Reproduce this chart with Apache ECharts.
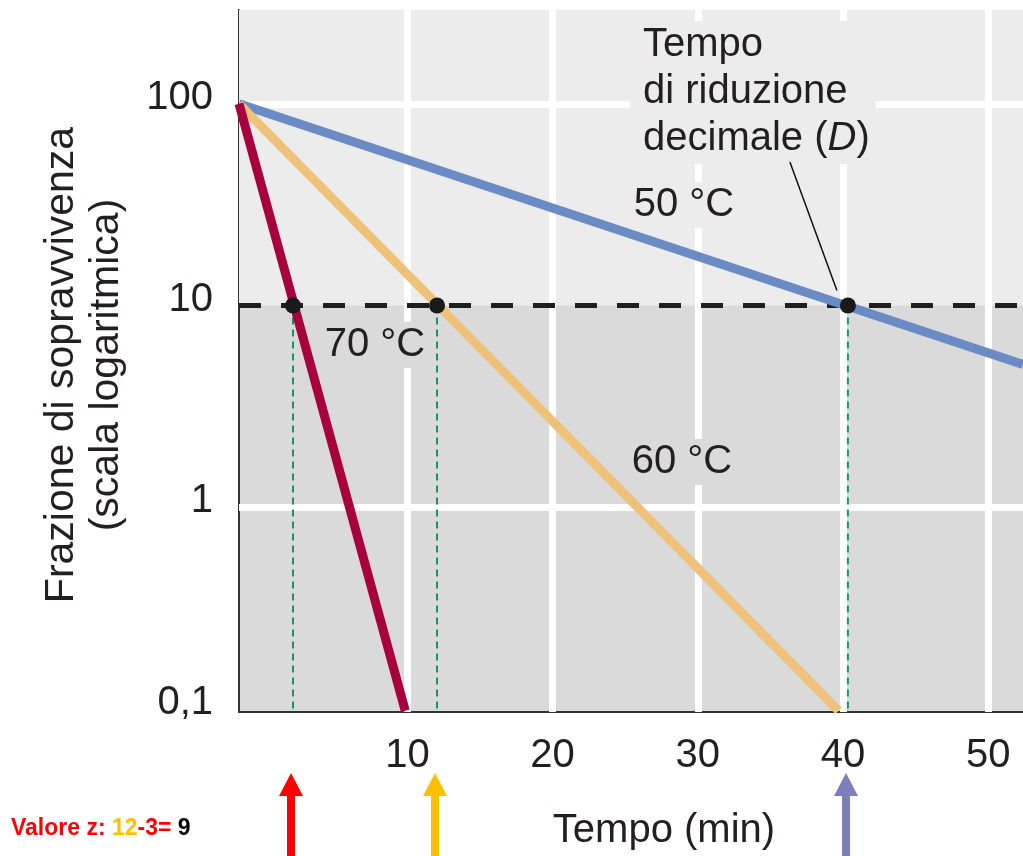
<!DOCTYPE html>
<html>
<head>
<meta charset="utf-8">
<script src="https://cdn.jsdelivr.net/npm/echarts@6/dist/echarts.min.js"></script>
<style>
html,body{margin:0;padding:0;background:#ffffff;}
#chart{width:1023px;height:856px;}
</style>
</head>
<body>
<div id="chart"></div>
<script>
// ---- data ----
const xTickValues = [10, 20, 30, 40, 50];
const yTickValues = [0.1, 1, 10, 100];
const xGridValues = [10, 20, 30, 40, 50];
const yGridValues = [1, 100];
const xRange = [-1.6, 52.4];
const yRange = [0.0966, 291.7];
const line50 = [[-1.6, 100], [52.4, 5.1]];
const line60 = [[-1.6, 100], [39.7, 0.098]];
const line70 = [[-1.6, 100], [9.85, 0.098]];
const dValues = [2.12, 12.04, 40.34];      // decimal reduction times (70, 60, 50 °C)
const reductionLevel = 10;
const floorLevel = 0.1;
const seriesNames = ['70 °C', '60 °C', '50 °C'];
const annotationText = 'Tempo\ndi riduzione\ndecimale ({i|D})';
const xTitle = 'Tempo (min)';
const yTitle = 'Frazione di sopravvivenza\n(scala logaritmica)';

const FONT = '"Liberation Sans", Arial, sans-serif';
const TXT = '#231f20';
const UPPER = '#ebeceb';
const LOWER = '#dadada';

const chart = echarts.init(document.getElementById('chart'), null, {renderer: 'canvas'});

const greenSeries = dValues.map(d => ({
  type: 'line', z: 4, silent: true, symbol: 'none', animation: false,
  data: [[d, reductionLevel], [d, floorLevel]],
  lineStyle: {color: '#129a63', width: 2, type: [7, 5]}
}));

chart.setOption({
  animation: false,
  grid: {left: 239, right: 0, top: 10, bottom: 144, show: true, backgroundColor: LOWER, borderWidth: 0},
  xAxis: {
    type: 'value', min: xRange[0], max: xRange[1],
    axisLine: {show: true, onZero: false, lineStyle: {color: '#333', width: 2}},
    axisTick: {show: false},
    splitLine: {show: false},
    axisLabel: {customValues: xTickValues, fontFamily: FONT, fontSize: 40, color: TXT, margin: 24}
  },
  yAxis: {
    type: 'log', logBase: 10, min: yRange[0], max: yRange[1],
    axisLine: {show: true, onZero: false, lineStyle: {color: '#333', width: 2}},
    axisTick: {show: false},
    splitLine: {show: false},
    axisLabel: {customValues: yTickValues, fontFamily: FONT, fontSize: 40, color: TXT, margin: 26,
      verticalAlign: 'bottom', lineHeight: 12,
      formatter: v => String(v).replace('.', ',')}
  },
  series: [
    {
      type: 'line', z: 4, silent: true, symbol: 'none',
      data: [[xRange[0], reductionLevel], [xRange[1], reductionLevel]],
      lineStyle: {color: '#1e1e1e', width: 5, type: [22, 20]},
      markArea: {
        z: 1, silent: true,
        itemStyle: {color: UPPER},
        data: [[{xAxis: xRange[0], yAxis: reductionLevel}, {xAxis: xRange[1], yAxis: yRange[1]}]]
      },
      markLine: {
        z: 2, silent: true, symbol: 'none', label: {show: false},
        lineStyle: {color: '#ffffff', width: 7, type: 'solid'},
        data: xGridValues.map(v => ({xAxis: v})).concat(yGridValues.map(v => ({yAxis: v})))
      }
    },
    ...greenSeries,
    {name: seriesNames[2], type: 'line', z: 5, symbol: 'none', data: line50,
     lineStyle: {color: '#6a8bc3', width: 9, cap: 'butt'}},
    {name: seriesNames[1], type: 'line', z: 5, symbol: 'none', data: line60,
     lineStyle: {color: '#efc27c', width: 9, cap: 'butt'}},
    {name: seriesNames[0], type: 'line', z: 5, symbol: 'none', data: line70,
     lineStyle: {color: '#a8003c', width: 9, cap: 'butt'}},
    {type: 'scatter', z: 6, symbolSize: 16, itemStyle: {color: '#1a1a1a', opacity: 1},
     data: dValues.map(d => [d, reductionLevel])}
  ]
});

// ---- annotations positioned through the chart's scales ----
const px = v => chart.convertToPixel({gridIndex: 0}, v);
const dotPx = dValues.map(d => px([d, reductionLevel]));
const arrowColors = ['#ff0000', '#ffc000', '#7b80ba'];
const arrows = dotPx.map((p, i) => {
  const x = Math.round(p[0]) - 2;
  return {
    type: 'polygon', z: 100, silent: true,
    shape: {points: [[x, 773], [x + 12, 796], [x + 4, 796], [x + 4, 856], [x - 4, 856], [x - 4, 796], [x - 12, 796]]},
    style: {fill: arrowColors[i]}
  };
});

function label(text, cx, cy, bg) {
  return {
    type: 'text', z: 100, silent: true, x: cx, y: cy,
    style: {text: text, font: '40px ' + FONT, fill: TXT, align: 'center', verticalAlign: 'middle',
      backgroundColor: bg, padding: [4, 6, 2, 6]}
  };
}

const blue = dotPx[2];
chart.setOption({
  graphic: [
    label(seriesNames[2], 684, 205, UPPER),
    label(seriesNames[1], 682, 462, LOWER),
    label(seriesNames[0], 375, 345, LOWER),
    {
      type: 'text', z: 100, silent: true, x: 630, y: 21,
      style: {
        text: annotationText, font: '40px ' + FONT, fill: TXT, align: 'left', verticalAlign: 'top',
        lineHeight: 47, backgroundColor: UPPER, padding: [0, 6, 2, 13],
        rich: {i: {fontStyle: 'italic', fontSize: 40, fontFamily: FONT, fill: TXT}}
      }
    },
    {
      type: 'line', z: 100, silent: true,
      shape: {x1: blue[0] - 11, y1: blue[1] - 15, x2: blue[0] - 58, y2: 162},
      style: {stroke: '#111', lineWidth: 1.5}
    },
    {
      type: 'text', z: 100, silent: true, x: 664, y: 831,
      style: {text: xTitle, font: '40px ' + FONT, fill: TXT, align: 'center', verticalAlign: 'middle'}
    },
    {
      type: 'text', z: 100, silent: true, x: 84, y: 365, rotation: Math.PI / 2,
      style: {text: yTitle, font: '41px ' + FONT, fill: TXT, align: 'center', verticalAlign: 'middle', lineHeight: 45}
    },
    {
      type: 'text', z: 100, silent: true, x: 11, y: 829,
      style: {
        text: '{r|Valore z: }{o|12}{r|-3= }{k|9}',
        verticalAlign: 'middle', align: 'left',
        rich: {
          r: {fill: '#ff0000', fontWeight: 'bold', fontSize: 23, fontFamily: FONT},
          o: {fill: '#ffc000', fontWeight: 'bold', fontSize: 23, fontFamily: FONT},
          k: {fill: '#000000', fontWeight: 'bold', fontSize: 23, fontFamily: FONT}
        }
      }
    },
    ...arrows
  ]
});
</script>
</body>
</html>
